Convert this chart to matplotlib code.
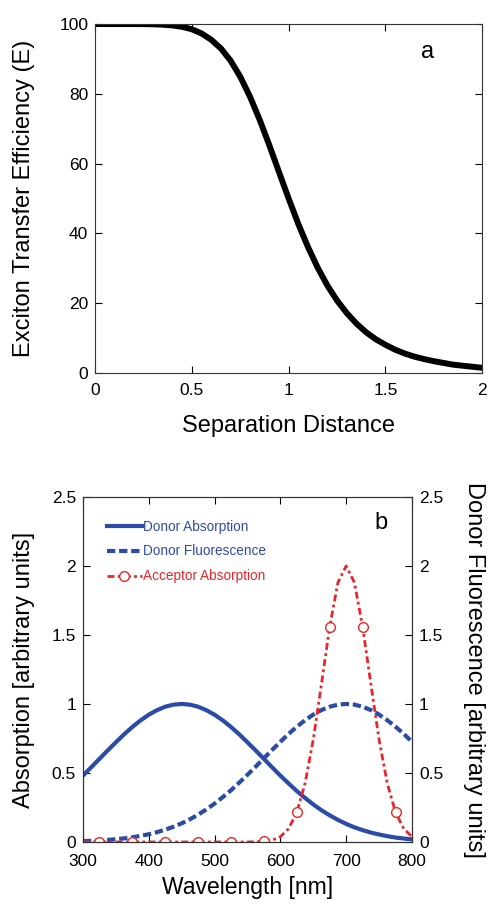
import numpy as np
import matplotlib.pyplot as plt

plt.rcParams['font.family'] = ['Liberation Sans', 'DejaVu Sans']

# panel a: transfer efficiency vs separation distance
sep = [0, 0.05, 0.1, 0.15, 0.2, 0.25, 0.3, 0.35, 0.4, 0.45, 0.5, 0.55, 0.6, 0.65,
       0.7, 0.75, 0.8, 0.85, 0.9, 0.95, 1.0, 1.05, 1.1, 1.15, 1.2, 1.25, 1.3, 1.35,
       1.4, 1.45, 1.5, 1.55, 1.6, 1.65, 1.7, 1.75, 1.8, 1.85, 1.9, 1.95, 2.0]
eff = [100, 100, 100, 100, 100, 99.98, 99.93, 99.82, 99.6, 99.2, 98.5, 97.3, 95.5, 93.0,
       89.5, 84.9, 79.2, 72.6, 65.3, 57.6, 50.0, 42.7, 36.1, 30.2, 25.1, 20.8, 17.2, 14.2,
       11.7, 9.7, 8.1, 6.7, 5.6, 4.7, 4.0, 3.4, 2.9, 2.4, 2.1, 1.8, 1.5]
a_xticks = [0, 0.5, 1, 1.5, 2]
a_xlabels = ['0', '0.5', '1', '1.5', '2']
a_yticks = [0, 20, 40, 60, 80, 100]

# panel b: spectra
wl = [300, 312.5, 325, 337.5, 350, 362.5, 375, 387.5, 400, 412.5, 425, 437.5, 450,
      462.5, 475, 487.5, 500, 512.5, 525, 537.5, 550, 562.5, 575, 587.5, 600, 612.5,
      625, 637.5, 650, 662.5, 675, 687.5, 700, 712.5, 725, 737.5, 750, 762.5, 775,
      787.5, 800]
donor_abs = [0.481, 0.541, 0.602, 0.663, 0.722, 0.780, 0.833, 0.881, 0.922, 0.955, 0.980,
             0.995, 1.0, 0.995, 0.980, 0.955, 0.922, 0.881, 0.833, 0.780, 0.722, 0.663,
             0.602, 0.541, 0.481, 0.424, 0.369, 0.319, 0.272, 0.230, 0.193, 0.160, 0.131,
             0.106, 0.086, 0.068, 0.054, 0.042, 0.032, 0.025, 0.019]
donor_fl = [0.006, 0.008, 0.011, 0.015, 0.020, 0.026, 0.034, 0.044, 0.056, 0.071, 0.089,
            0.110, 0.135, 0.164, 0.198, 0.236, 0.278, 0.325, 0.375, 0.430, 0.487, 0.546,
            0.607, 0.667, 0.726, 0.783, 0.835, 0.882, 0.923, 0.956, 0.980, 0.995, 1.0,
            0.995, 0.980, 0.956, 0.923, 0.882, 0.835, 0.783, 0.726]
acc_abs = [0, 0, 0, 0, 0, 0, 0, 0, 0, 0, 0, 0, 0, 0, 0, 0, 0, 0, 0, 0, 0.0, 0.001,
           0.004, 0.013, 0.038, 0.096, 0.215, 0.424, 0.742, 1.145, 1.561, 1.880, 2.0,
           1.880, 1.561, 1.145, 0.742, 0.424, 0.215, 0.096, 0.038]
b_xticks = [300, 400, 500, 600, 700, 800]
b_yticks = [0, 0.5, 1, 1.5, 2, 2.5]
b_ylabels = ['0', '0.5', '1', '1.5', '2', '2.5']

blue = '#2B4BA6'
red = '#E8262A'
tick_fs = 12.5

fig = plt.figure(figsize=(4.88, 9.07), dpi=100)

# ---- panel a
ax1 = fig.add_axes([0.195, 0.5887, 0.793, 0.3848])
ax1.plot(sep, eff, color='black', lw=4.3, solid_capstyle='butt')
ax1.set_xlim(0, 2)
ax1.set_ylim(0, 100)
ax1.set_xticks(a_xticks)
ax1.set_xticklabels(a_xlabels)
ax1.set_yticks(a_yticks)
ax1.tick_params(direction='in', top=True, right=True, labelsize=tick_fs, length=5, pad=5)
ax1.tick_params(axis='x', pad=7)
ax1.set_xlabel('Separation Distance', fontsize=17, va='center')
ax1.xaxis.set_label_coords(0.5, -0.152)
ax1.set_ylabel('Exciton Transfer Efficiency (E)', fontsize=17, va='center')
ax1.yaxis.set_label_coords(-0.185, 0.5)
ax1.text(0.858, 0.92, 'a', transform=ax1.transAxes, fontsize=17, ha='center', va='center')
for s in ax1.spines.values():
    s.set_linewidth(0.8)
    s.set_color('#333333')

# ---- panel b
ax2 = fig.add_axes([0.170, 0.0717, 0.6742, 0.3804])
ax2.plot(wl, donor_abs, color=blue, lw=3, label='Donor Absorption')
ax2.plot(wl, donor_fl, color=blue, lw=3, dashes=(2, 0.9), label='Donor Fluorescence')
ax2.plot(wl, acc_abs, color=red, lw=2, dashes=(2.5, 1.2, 1, 1.2),
         marker='o', markersize=7, markerfacecolor='white', markeredgecolor=red,
         markeredgewidth=1, markevery=(2, 4), label='Acceptor Absorption')
ax2.set_xlim(300, 800)
ax2.set_ylim(0, 2.5)
ax2.set_xticks(b_xticks)
ax2.set_yticks(b_yticks)
ax2.set_yticklabels(b_ylabels)
ax2.tick_params(direction='in', top=True, labelsize=tick_fs, length=5, pad=5)
ax2.tick_params(axis='x', pad=9)
ax2.set_xlabel('Wavelength [nm]', fontsize=16.5, va='center')
ax2.xaxis.set_label_coords(0.5, -0.133)
ax2.set_ylabel('Absorption [arbitrary units]', fontsize=17, va='center')
ax2.yaxis.set_label_coords(-0.178, 0.5)
ax2.text(0.905, 0.925, 'b', transform=ax2.transAxes, fontsize=17, ha='center', va='center')

leg = ax2.legend(loc='upper left', bbox_to_anchor=(0.035, 0.97), frameon=False,
                 fontsize=9.8, handlelength=2.6, handletextpad=0.1, labelspacing=0.8)
for txt, col in zip(leg.get_texts(), [blue, blue, red]):
    txt.set_color(col)

ax3 = ax2.twinx()
ax3.set_ylim(0, 2.5)
ax3.set_yticks(b_yticks)
ax3.set_yticklabels(b_ylabels)
ax3.tick_params(direction='in', labelsize=tick_fs, length=5, pad=5)
ax3.set_ylabel('Donor Fluorescence [arbitrary units]', fontsize=17, rotation=270,
               va='center')
ax3.yaxis.set_label_coords(1.19, 0.5)
for ax in (ax2, ax3):
    for s in ax.spines.values():
        s.set_linewidth(0.8)
        s.set_color('#333333')

fig.savefig('out.png', dpi=100)
